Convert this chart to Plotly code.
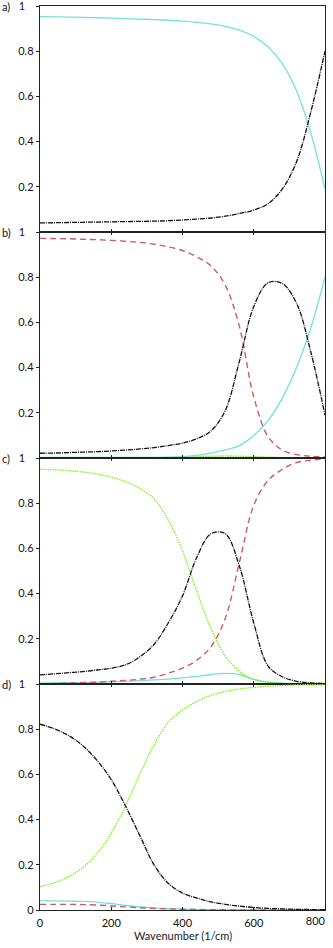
import plotly.graph_objects as go
from plotly.subplots import make_subplots

wavenumber = [0, 40, 80, 120, 160, 200, 240, 280, 320, 360, 400,
              440, 480, 520, 560, 600, 640, 680, 720, 760, 800]

# Panel a
a_cyan = [0.953, 0.952, 0.951, 0.950, 0.948, 0.946, 0.944, 0.942, 0.940, 0.937, 0.933,
          0.928, 0.921, 0.910, 0.893, 0.865, 0.820, 0.745, 0.625, 0.440, 0.190]
a_black = [0.040, 0.041, 0.042, 0.043, 0.044, 0.045, 0.046, 0.047, 0.048, 0.050, 0.053,
           0.057, 0.062, 0.070, 0.082, 0.097, 0.125, 0.190, 0.310, 0.530, 0.800]

# Panel b
b_red = [0.972, 0.971, 0.970, 0.968, 0.966, 0.963, 0.959, 0.954, 0.946, 0.934, 0.918,
         0.890, 0.850, 0.765, 0.580, 0.270, 0.095, 0.035, 0.015, 0.008, 0.005]
b_black = [0.021, 0.022, 0.024, 0.026, 0.028, 0.031, 0.035, 0.040, 0.046, 0.055, 0.066,
           0.085, 0.120, 0.210, 0.430, 0.670, 0.775, 0.772, 0.685, 0.470, 0.190]
b_cyan = [0.003, 0.003, 0.003, 0.003, 0.003, 0.003, 0.003, 0.003, 0.003, 0.004, 0.006,
          0.012, 0.022, 0.036, 0.055, 0.100, 0.165, 0.265, 0.400, 0.575, 0.800]
b_green = [0.0, 0.0, 0.0, 0.0, 0.0, 0.0, 0.0, 0.001, 0.001, 0.002, 0.003,
           0.006, 0.008, 0.009, 0.008, 0.006, 0.004, 0.002, 0.001, 0.0, 0.0]

# Panel c
c_green = [0.950, 0.948, 0.944, 0.938, 0.929, 0.915, 0.895, 0.865, 0.820, 0.725, 0.590,
           0.410, 0.245, 0.125, 0.055, 0.020, 0.008, 0.003, 0.001, 0.0, 0.0]
c_black = [0.040, 0.045, 0.050, 0.055, 0.062, 0.070, 0.085, 0.120, 0.175, 0.270, 0.390,
           0.560, 0.665, 0.665, 0.520, 0.270, 0.080, 0.032, 0.012, 0.005, 0.002]
c_red = [0.0, 0.002, 0.004, 0.006, 0.008, 0.012, 0.016, 0.021, 0.030, 0.048, 0.070,
         0.105, 0.165, 0.290, 0.540, 0.790, 0.900, 0.950, 0.980, 0.990, 0.995]
c_cyan = [0.004, 0.005, 0.006, 0.007, 0.008, 0.010, 0.012, 0.015, 0.018, 0.022, 0.027,
          0.034, 0.042, 0.047, 0.042, 0.020, 0.008, 0.003, 0.001, 0.0, 0.0]

# Panel d
d_black = [0.822, 0.802, 0.772, 0.727, 0.662, 0.577, 0.460, 0.330, 0.200, 0.118, 0.075,
           0.053, 0.036, 0.025, 0.017, 0.011, 0.007, 0.005, 0.003, 0.002, 0.001]
d_green = [0.103, 0.120, 0.147, 0.188, 0.250, 0.340, 0.460, 0.600, 0.730, 0.830, 0.885,
           0.922, 0.950, 0.967, 0.978, 0.985, 0.990, 0.993, 0.996, 0.997, 0.998]
d_cyan = [0.040, 0.040, 0.039, 0.038, 0.035, 0.028, 0.020, 0.014, 0.009, 0.006, 0.004,
          0.003, 0.002, 0.001, 0.001, 0.001, 0.0, 0.0, 0.0, 0.0, 0.0]
d_red = [0.025, 0.025, 0.025, 0.024, 0.022, 0.018, 0.014, 0.010, 0.007, 0.005, 0.003,
         0.002, 0.001, 0.001, 0.0, 0.0, 0.0, 0.0, 0.0, 0.0, 0.0]

panel_labels = ["a)", "b)", "c)", "d)"]
x_tick_vals = [0, 200, 400, 600, 800]
x_tick_text = ["0", "200", "400", "600", "800"]
x_title = "Wavenumber (1/cm)"

STYLE = {
    "cyan": dict(color="#72e2d8", width=1.3, dash="solid"),
    "black": dict(color="#111111", width=1.3, dash="5px,1px,1px,1px"),
    "red": dict(color="#cd5a69", width=1.4, dash="6px,4px"),
    "green": dict(color="#7ff01a", width=1.3, dash="1.5px,1px"),
}

panels = [
    [("cyan", a_cyan), ("black", a_black)],
    [("green", b_green), ("cyan", b_cyan), ("red", b_red), ("black", b_black)],
    [("cyan", c_cyan), ("red", c_red), ("green", c_green), ("black", c_black)],
    [("cyan", d_cyan), ("red", d_red), ("green", d_green), ("black", d_black)],
]

fig = make_subplots(rows=4, cols=1, shared_xaxes=False, vertical_spacing=0)

for i, series in enumerate(panels):
    for key, vals in series:
        fig.add_trace(go.Scatter(x=wavenumber, y=vals, mode="lines",
                                 line=dict(shape="spline", smoothing=1.0, **STYLE[key]),
                                 showlegend=False, hoverinfo="skip"),
                      row=i + 1, col=1)

FONT = "Lato, 'Open Sans', sans-serif"
AX_COLOR = "#222222"
TICKFONT = dict(family=FONT, size=11, color="#111")

# bottom axis: labels 0..600 centred on their ticks; the last one (800) is drawn
# right-aligned to the axis end by an overlaying axis, as in the reference
bottom_text = x_tick_text[:-1] + [""]

for i in range(4):
    r = i + 1
    last = (r == 4)
    fig.update_xaxes(range=[0, 800], tickvals=x_tick_vals,
                     ticktext=bottom_text if last else x_tick_text,
                     showticklabels=last, ticks="inside", ticklen=3, tickcolor=AX_COLOR,
                     showline=True, linecolor=AX_COLOR, linewidth=1.2,
                     mirror=("ticks" if r > 1 else True), showgrid=False, zeroline=False,
                     tickfont=TICKFONT, ticklabeloverflow="allow", ticklabelstandoff=3,
                     automargin=False, row=r, col=1)
    yv = [0.2, 0.4, 0.6, 0.8, 1.0]
    yt = ["0.2", "0.4", "0.6", "0.8", "1\u00a0\u00a0\u00a0"]
    if last:
        yv = [0] + yv
        yt = ["0"] + yt
    fig.update_yaxes(range=[0, 1], tickvals=yv, ticktext=yt, ticks="outside", ticklen=3,
                     tickcolor=AX_COLOR, showline=True, linecolor=AX_COLOR, linewidth=1.2,
                     mirror=True, showgrid=False, zeroline=False,
                     tickfont=TICKFONT, ticklabeloverflow="allow", automargin=False,
                     row=r, col=1)
    yref = "y domain" if r == 1 else f"y{r} domain"
    fig.add_annotation(text=panel_labels[i], xref="paper", x=-40 / 285, xanchor="left",
                       yref=yref, y=1, yanchor="middle", showarrow=False,
                       font=dict(family=FONT, size=11, color="#111"))

# overlaying axis carrying only the last bottom label
fig.add_trace(go.Scatter(x=[None], y=[None], xaxis="x5", yaxis="y4", mode="lines",
                         showlegend=False, hoverinfo="skip"))
fig.update_layout(xaxis5=dict(overlaying="x4", anchor="y4", side="bottom", range=[0, 800],
                              tickvals=[x_tick_vals[-1]], ticktext=[x_tick_text[-1]],
                              ticks="", showline=False, showgrid=False, zeroline=False,
                              ticklabelposition="outside left", ticklabelstandoff=3,
                              ticklabeloverflow="allow", automargin=False,
                              tickfont=TICKFONT))

fig.add_annotation(text=x_title, xref="paper", x=0.5, xanchor="center",
                   yref="paper", y=0, yanchor="middle", yshift=-25, showarrow=False,
                   font=dict(family=FONT, size=11, color="#222"))

fig.update_layout(width=333, height=948, margin=dict(l=40, r=8, t=6, b=38),
                  plot_bgcolor="white", paper_bgcolor="white")

fig.write_html("out.html", config={"displayModeBar": False, "staticPlot": True},
               post_script="document.body.style.margin='0';document.body.style.padding='0';"
                           "document.body.style.overflow='hidden';")
